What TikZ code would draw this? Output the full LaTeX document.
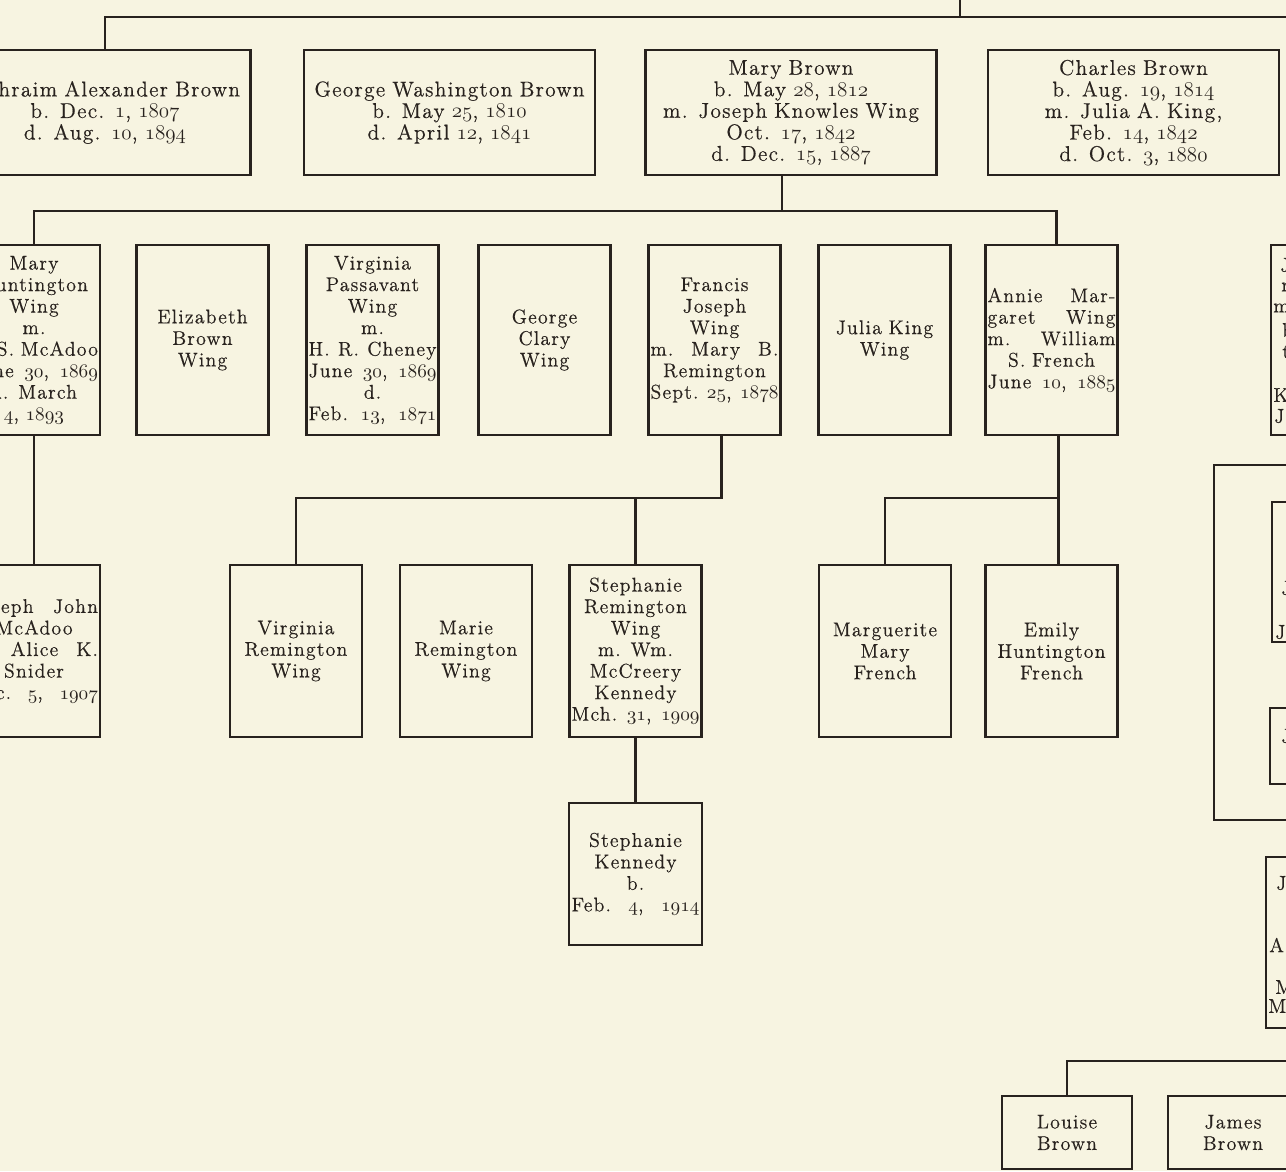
\documentclass[tikz,border=0pt]{standalone}
\usepackage{fontspec}
\setmainfont{Latin Modern Roman}[LetterSpace=6.0,WordSpace=1.4,FakeBold=0.5]
\usetikzlibrary{calc}
\definecolor{paper}{RGB}{247,244,225}
\definecolor{ink}{RGB}{40,34,30}
\newcommand{\os}[1]{{\usefont{OML}{cmm}{m}{it}#1}}
\newcommand{\spread}[1]{\noindent\hbox to\hsize{#1}}
\newcommand{\famfont}{\fontsize{11.3}{12.25}\selectfont}
\newcommand{\topfont}{\fontsize{12.2}{12.25}\selectfont}
\tikzstyle{person}=[draw=ink,line width=1.5pt,text=ink,inner sep=0pt,align=center,font=\famfont]
\tikzstyle{parentbox}=[person,minimum width=5.82cm,minimum height=2.5cm,text width=5.7cm,font=\topfont]
\tikzstyle{childbox}=[person,minimum width=2.64cm,minimum height=3.8cm,text width=2.56cm]
\tikzstyle{grandbox}=[person,minimum width=2.64cm,minimum height=3.44cm,text width=2.56cm]
\tikzstyle{link}=[draw=ink,line width=1.5pt]
\tikzstyle{stub}=[text=ink,inner sep=0pt,anchor=west,font=\famfont]

\begin{document}
\begin{tikzpicture}[x=0.02cm,y=-0.02cm]
  \useasboundingbox (0,0) rectangle (1286,1171);
  \clip (0,0) rectangle (1286,1171);
  \fill[paper] (0,0) rectangle (1286,1171);

  % Brown generation
  \node[parentbox] (B1) at (105,112.5)  {Ephraim Alexander Brown\\ b. Dec. \os{1}, \os{1807}\\ d. Aug. \os{10}, \os{1894}};
  \node[parentbox] (B2) at (449.5,112.5) {George Washington Brown\\ b. May \os{25}, \os{1810}\\ d. April \os{12}, \os{1841}};
  \node[parentbox] (B3) at (791,112.5)  {Mary Brown\\ b. May \os{28}, \os{1812}\\ m. Joseph Knowles Wing\\ Oct. \os{17}, \os{1842}\\ d. Dec. \os{15}, \os{1887}};
  \node[parentbox] (B4) at (1133.5,112.5) {Charles Brown\\ b. Aug. \os{19}, \os{1814}\\ m. Julia A. King,\\ Feb. \os{14}, \os{1842}\\ d. Oct. \os{3}, \os{1880}};

  % Wing children
  \node[childbox] (W1) at (34,340)    {Mary\\ Huntington\\ Wing\\ m.\\ \spread{\hfill S. McAdoo}\\ \spread{June\hfill\os{30},\hfill\os{1869}}\\ d. March\\ \os{4}, \os{1893}};
  \node[childbox] (W2) at (202.5,340) {Elizabeth\\ Brown\\ Wing};
  \node[childbox] (W3) at (372.5,340) {Virginia\\ Passavant\\ Wing\\ m.\\ \spread{H.\hfill R.\hfill Cheney}\\ \spread{June\hfill\os{30},\hfill\os{1869}}\\ d.\\ \spread{Feb.\hfill\os{13},\hfill\os{1871}}};
  \node[childbox] (W4) at (544.5,340) {George\\ Clary\\ Wing};
  \node[childbox] (W5) at (714.5,340) {Francis\\ Joseph\\ Wing\\ \spread{m.\hfill Mary\hfill B.}\\ Remington\\ \spread{Sept.\hfill\os{25},\hfill\os{1878}}};
  \node[childbox] (W6) at (884.5,340) {Julia King\\ Wing};
  \node[childbox] (W7) at (1051.5,340) {\spread{Annie\hfill Mar-}\\ \spread{garet\hfill Wing}\\ \spread{m.\hfill William}\\ S. French\\ \spread{June\hfill\os{10},\hfill\os{1885}}};
  \node[childbox] (W8) at (1337,340)  {};

  % grandchildren
  \node[grandbox] (G0) at (34,651)    {\spread{Joseph\hfill John}\\ McAdoo\\ \spread{m.\hfill Alice\hfill K.}\\ Snider\\ \spread{Dec.\hfill\os{5},\hfill\os{1907}}};
  \node[grandbox] (G1) at (296,651)   {Virginia\\ Remington\\ Wing};
  \node[grandbox] (G2) at (466,651)   {Marie\\ Remington\\ Wing};
  \node[grandbox] (G3) at (635.5,651) {Stephanie\\ Remington\\ Wing\\ m. Wm.\\ McCreery\\ Kennedy\\ \spread{Mch.\hfill\os{31},\hfill\os{1909}}};
  \node[grandbox] (G4) at (885,651)   {Marguerite\\ Mary\\ French};
  \node[grandbox] (G5) at (1051.5,651) {Emily\\ Huntington\\ French};

  \node[person,minimum width=2.66cm,minimum height=2.84cm,text width=2.56cm] (K1) at (635.5,874) {Stephanie\\ Kennedy\\ b.\\ \spread{Feb.\hfill\os{4},\hfill\os{1914}}};

  % right margin, cut by the page
  \node[person,minimum width=3.72cm,minimum height=7.1cm] (F1) at (1307,642.5) {};
  \node[person,minimum width=2.64cm,minimum height=2.8cm]  (X1) at (1338,572) {};
  \node[person,minimum width=2.64cm,minimum height=1.52cm] (X2) at (1336,746) {};
  \node[person,minimum width=2.64cm,minimum height=3.42cm] (X3) at (1332,942.5) {};
  \foreach \x/\y/\t [count=\i] in {1280/265/J,1281/287/n,1273/308/m,1282/330/b,1282/352/t,1273/395/K,1274/416/J,
      1281/588/J,1275/632/J,1281/736/J,1276/883/J,1269/945/A,1275/987/M,1268/1006/M}
    \node[stub] (s\i) at (\x,\y) {\t};

  \node[person,minimum width=2.6cm,minimum height=1.46cm,text width=2.5cm] (L1) at (1067,1132.5) {Louise\\ Brown};
  \node[person,minimum width=2.6cm,minimum height=1.46cm,text width=2.5cm] (J1) at (1233,1132.5) {James\\ Brown};

  % lines of descent
  \coordinate (top)  at (960,-10);
  \coordinate (bus1) at (1300,17);
  \coordinate (bus2) at (0,211);
  \coordinate (bus3) at (0,498);
  \coordinate (bus4) at (1300,1061);
  \coordinate (m1) at ($(B3.south)+(-9,0)$);
  \coordinate (m2) at ($(W5.south)+(7,0)$);
  \coordinate (m3) at ($(W7.south)+(7,0)$);

  \draw[link] (top) -- (top |- bus1);
  \draw[link] (B1.north) |- (bus1);
  \draw[link] (m1) -- (m1 |- bus2);
  \draw[link] (W1.north) |- ($(W7.north |- bus2)+(5,0)$) -- ($(W7.north)+(5,0)$);
  \draw[link] (W1.south) -- (G0.north);
  \draw[link] (G1.north) |- (m2 |- bus3) -- (m2);
  \draw[link] (G3.north) -- (G3.north |- bus3);
  \draw[link] (m3) -- (m3 |- G5.north);
  \draw[link] (G4.north) |- (m3 |- bus3);
  \draw[link] (G3.south) -- (K1.north);
  \draw[link] (L1.north) |- (bus4);
\end{tikzpicture}
\end{document}
